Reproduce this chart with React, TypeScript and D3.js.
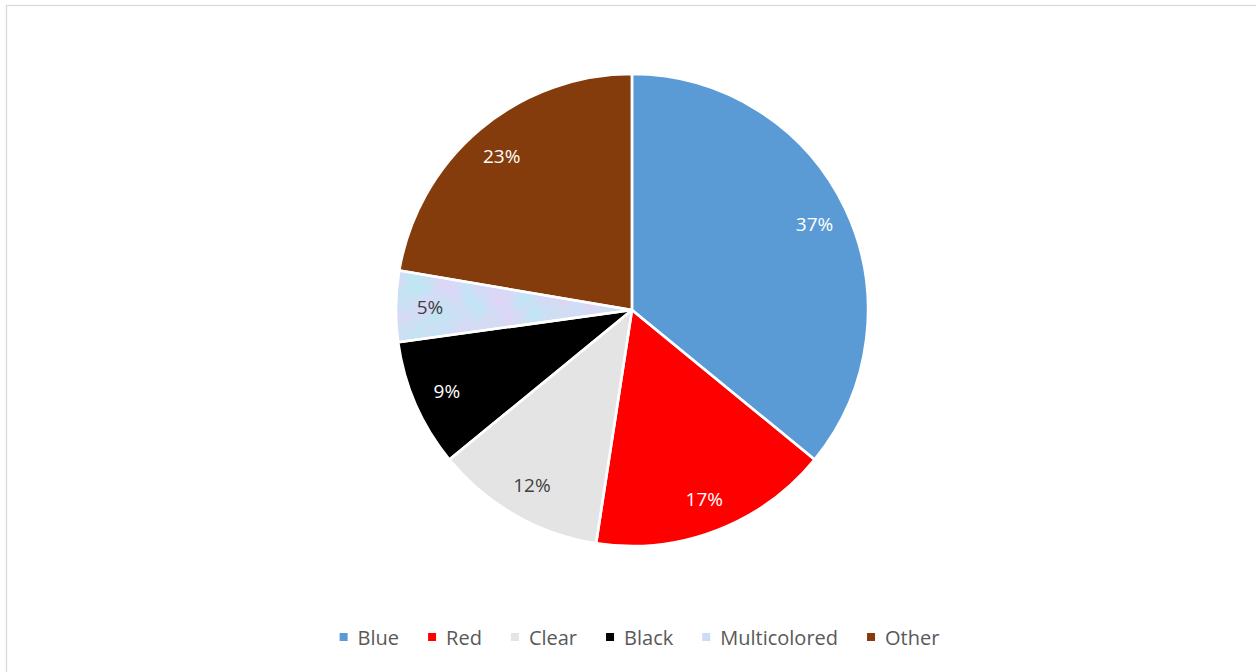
import React from "react";
import * as d3 from "d3";

const categories = ["Blue", "Red", "Clear", "Black", "Multicolored", "Other"];
const values = [37, 17, 12, 9, 5, 23];
const labels = ["37%", "17%", "12%", "9%", "5%", "23%"];
const colors = ["#5b9bd5", "#ff0000", "#e4e4e4", "#000000", "#cddcf4", "#843c0c"];
const legendColors = ["#5b9bd5", "#ff0000", "#e4e4e4", "#000000", "#cddcf6", "#843c0c"];
const labelColors = ["#ffffff", "#ffffff", "#404040", "#ffffff", "#404040", "#ffffff"];
const textured = [false, false, false, false, true, false];

const W = 1256;
const H = 672;
const CX = 632;
const CY = 310;
const R = 236;
const LABEL_R = 202;
const FONT = "'Open Sans', 'Noto Sans', sans-serif";

function measure(text: string, size: number) {
  if (typeof document === "undefined") return text.length * size * 0.55;
  const c = document.createElement("canvas");
  const ctx = c.getContext("2d")!;
  ctx.font = `${size}px 'Open Sans'`;
  return ctx.measureText(text).width;
}

export default function App() {
  const pie = d3.pie<number>().sort(null).value((d) => d)(values);
  const arc = d3.arc<d3.PieArcDatum<number>>().innerRadius(0).outerRadius(R);
  const labelArc = d3.arc<d3.PieArcDatum<number>>().innerRadius(LABEL_R).outerRadius(LABEL_R);

  const legendSize = 20;
  const sq = 8;
  const sqGap = 10;
  const itemGap = 29;
  const widths = categories.map((c) => sq + sqGap + measure(c, legendSize));
  const total = widths.reduce((a, b) => a + b, 0) + itemGap * (categories.length - 1);
  let x0 = 639.5 - total / 2;
  const legendItems = categories.map((c, i) => {
    const x = x0;
    x0 += widths[i] + itemGap;
    return { c, x, i };
  });
  const legendY = 637;

  return (
    <svg width={W} height={H} style={{ position: "absolute", left: 0, top: 0, background: "#fff" }}>
      <defs>
        <filter
          id="mottle"
          x="0"
          y="0"
          width="1"
          height="1"
          filterUnits="objectBoundingBox"
          colorInterpolationFilters="sRGB"
        >
          <feTurbulence type="fractalNoise" baseFrequency="0.035" numOctaves={3} seed={7} result="n" />
          <feColorMatrix
            in="n"
            type="matrix"
            values="0.22 0 0 0 0.7  -0.12 0 0 0 0.93  0 0 0.06 0 0.93  0 0 0 0 1"
            result="c"
          />
          <feComposite in="c" in2="SourceGraphic" operator="in" />
        </filter>
      </defs>
      <rect x={6.5} y={5.5} width={1300} height={700} fill="#fff" stroke="#d9d9d9" strokeWidth={1.3} />
      <g transform={`translate(${CX},${CY})`}>
        {pie.map((p, i) => (
          <path
            key={categories[i]}
            d={arc(p) || ""}
            fill={colors[i]}
            filter={textured[i] ? "url(#mottle)" : undefined}
          />
        ))}
        {pie.map((p, i) => (
          <path
            key={"s" + categories[i]}
            d={arc(p) || ""}
            fill="none"
            stroke="#fff"
            strokeWidth={2.5}
            strokeLinejoin="round"
          />
        ))}
        {pie.map((p, i) => {
          const [lx, ly] = labelArc.centroid(p);
          return (
            <text
              key={"l" + i}
              x={lx}
              y={ly}
              textAnchor="middle"
              dominantBaseline="central"
              fontFamily={FONT}
              fontSize={19}
              fill={labelColors[i]}
            >
              {labels[i]}
            </text>
          );
        })}
      </g>
      <g>
        {legendItems.map(({ c, x, i }) => (
          <g key={c}>
            <rect x={x} y={legendY - sq / 2} width={sq} height={sq} fill={legendColors[i]} />
            <text
              x={x + sq + sqGap}
              y={legendY}
              dominantBaseline="central"
              fontFamily={FONT}
              fontSize={legendSize}
              fill="#595959"
            >
              {c}
            </text>
          </g>
        ))}
      </g>
    </svg>
  );
}
